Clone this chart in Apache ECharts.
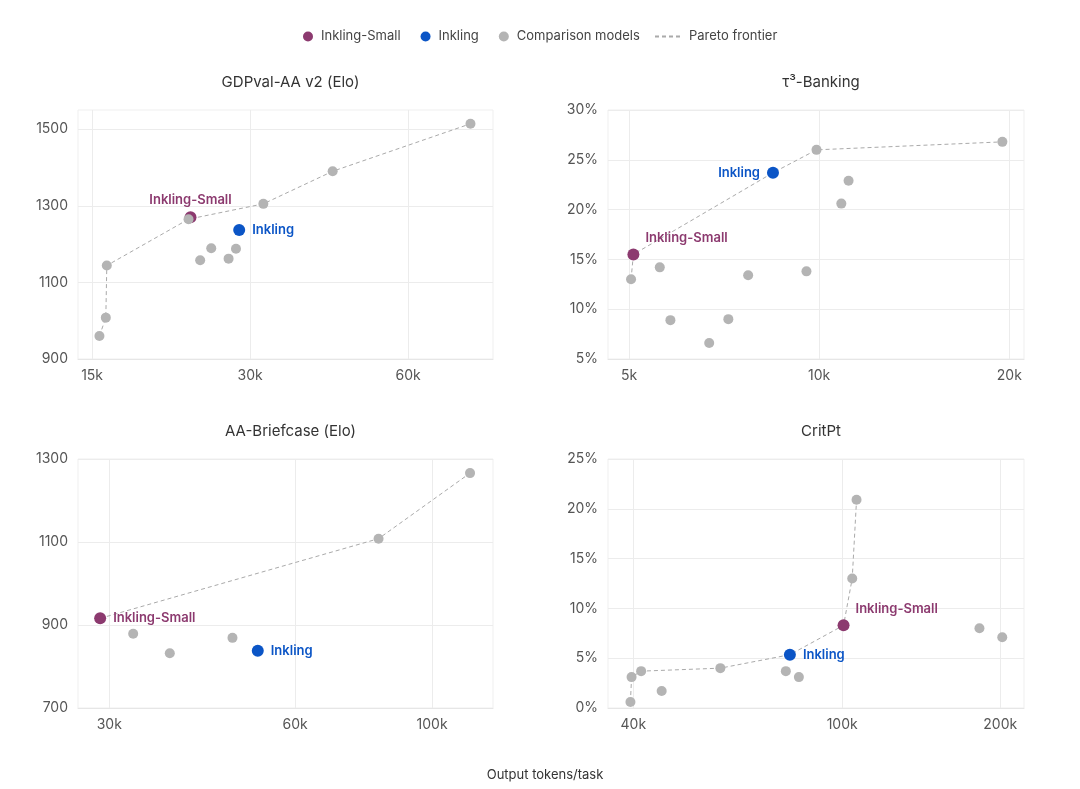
<!DOCTYPE html>
<html>
<head>
<meta charset="utf-8">
<script src="https://cdn.jsdelivr.net/npm/echarts@6/dist/echarts.min.js"></script>
<style>
html,body{margin:0;padding:0;background:#fff;}
#c{width:1080px;height:789px;}
</style>
</head>
<body>
<div id="c"></div>
<script>
// ---------- DATA ----------
const panelTitles = ['GDPval-AA v2 (Elo)', 'τ³-Banking', 'AA-Briefcase (Elo)', 'CritPt'];

const gdpComparison = [[15490,960],[15930,1008],[16000,1144],[22900,1265],[24100,1158],[25300,1189],[27300,1162],[28200,1188],[31800,1305],[43100,1390],[78900,1514]];
const gdpSmall = [[23100,1270]];
const gdpInkling = [[28600,1237]];
const gdpFrontier = [[15490,960],[15930,1008],[16000,1144],[22900,1265],[23100,1270],[31800,1305],[43100,1390],[78900,1514]];

const bankComparison = [[5036,13.0],[5592,14.2],[5813,8.9],[6696,6.6],[7180,9.0],[7718,13.4],[9546,13.8],[9902,26.0],[10840,20.6],[11130,22.9],[19500,26.8]];
const bankSmall = [[5079,15.5]];
const bankInkling = [[8449,23.7]];
const bankFrontier = [[5036,13.0],[5079,15.5],[8449,23.7],[9902,26.0],[19500,26.8]];

const briefComparison = [[32800,879],[37600,832],[47500,869],[81900,1108],[115200,1266]];
const briefSmall = [[29000,916]];
const briefInkling = [[52200,838]];
const briefFrontier = [[29000,916],[81900,1108],[115200,1266]];

const critComparison = [[39500,0.6],[39700,3.1],[41400,3.7],[45300,1.7],[58600,4.0],[78100,3.7],[82700,3.1],[104500,13.0],[106500,20.9],[182600,8.0],[201800,7.1]];
const critSmall = [[100600,8.3]];
const critInkling = [[79500,5.35]];
const critFrontier = [[39500,0.6],[39700,3.1],[41400,3.7],[58600,4.0],[79500,5.35],[100600,8.3],[104500,13.0],[106500,20.9]];

const xTicks = [[15000,30000,60000],[5000,10000,20000],[30000,60000,100000],[40000,100000,200000]];
const xRanges = [[14100,87100],[4630,21100],[26700,125500],[35800,222000]];
const yTicks = [[900,1100,1300,1500],[5,10,15,20,25,30],[700,900,1100,1300],[0,5,10,15,20,25]];
const yRanges = [[900,1550],[5,30],[700,1300],[0,25]];
const yPercent = [false,true,false,true];

// ---------- STYLE ----------
const C_SMALL = '#8c3a6f';
const C_INK = '#0b55c6';
const C_GRAY = '#b4b4b4';
const FONT = 'Inter, "Noto Sans", sans-serif';

const grids = [
  {left:78, top:110, width:415, height:249},
  {left:608, top:110, width:416, height:249},
  {left:78, top:459, width:415, height:249},
  {left:608, top:459, width:416, height:249}
];

const labelCfg = [
  [{position:'top', distance:5, offset:[0,0]}, {position:'right', distance:7, offset:[0,0]}],
  [{position:'right', distance:6, offset:[0,-16]}, {position:'left', distance:7, offset:[0,0]}],
  [{position:'right', distance:7, offset:[0,0]}, {position:'right', distance:7, offset:[0,0]}],
  [{position:'right', distance:6, offset:[0,-16]}, {position:'right', distance:7, offset:[0,0]}]
];

const comparisons = [gdpComparison, bankComparison, briefComparison, critComparison];
const smalls = [gdpSmall, bankSmall, briefSmall, critSmall];
const inklings = [gdpInkling, bankInkling, briefInkling, critInkling];
const frontiers = [gdpFrontier, bankFrontier, briefFrontier, critFrontier];

const xAxes = [], yAxes = [], series = [], titles = [];
for (let i = 0; i < 4; i++) {
  const g = grids[i];
  titles.push({
    text: panelTitles[i],
    left: g.left + g.width / 2,
    top: g.top - 40,
    textAlign: 'center',
    textStyle: {fontFamily: FONT, fontSize: 15, fontWeight: 'normal', color: '#333'}
  });
  xAxes.push({
    type: 'log', gridIndex: i, min: xRanges[i][0], max: xRanges[i][1],
    axisLine: {show: true, lineStyle: {color: '#e6e6e6'}},
    axisTick: {show: false, customValues: xTicks[i]},
    splitLine: {show: true, lineStyle: {color: '#ececec'}},
    axisLabel: {customValues: xTicks[i], margin: 10, color: '#555', fontSize: 14, fontFamily: FONT,
      formatter: v => Math.round(v / 1000) + 'k'}
  });
  yAxes.push({
    type: 'value', gridIndex: i, min: yRanges[i][0], max: yRanges[i][1],
    interval: yTicks[i][1] - yTicks[i][0],
    axisLine: {show: false},
    axisTick: {show: false, customValues: yTicks[i]},
    splitLine: {show: true, lineStyle: {color: '#ececec'}},
    axisLabel: {customValues: yTicks[i], margin: 10, color: '#555', fontSize: 14, fontFamily: FONT,
      formatter: v => yPercent[i] ? v + '%' : String(v)}
  });
  series.push({
    name: 'Pareto frontier', type: 'line', xAxisIndex: i, yAxisIndex: i,
    data: frontiers[i], symbol: 'none', silent: true, z: 1,
    lineStyle: {color: '#aaaaaa', width: 1, type: [4, 3]},
    itemStyle: {color: '#aaaaaa'}
  });
  series.push({
    name: 'Inkling-Small', type: 'scatter', xAxisIndex: i, yAxisIndex: i,
    data: smalls[i], symbolSize: 12, z: 3,
    itemStyle: {color: C_SMALL, opacity: 1},
    label: Object.assign({show: true, formatter: 'Inkling-Small', color: C_SMALL, fontSize: 13,
      fontWeight: 600, fontFamily: FONT}, labelCfg[i][0])
  });
  series.push({
    name: 'Inkling', type: 'scatter', xAxisIndex: i, yAxisIndex: i,
    data: inklings[i], symbolSize: 12, z: 3,
    itemStyle: {color: C_INK, opacity: 1},
    label: Object.assign({show: true, formatter: 'Inkling', color: C_INK, fontSize: 13,
      fontWeight: 600, fontFamily: FONT}, labelCfg[i][1])
  });
  series.push({
    name: 'Comparison models', type: 'scatter', xAxisIndex: i, yAxisIndex: i,
    data: comparisons[i], symbolSize: 10, z: 4,
    itemStyle: {color: C_GRAY, opacity: 1}
  });
}

titles.push({
  text: 'Output tokens/task', left: 540, top: 764, textAlign: 'center',
  textStyle: {fontFamily: FONT, fontSize: 13, fontWeight: 'normal', color: '#333'}
});

const legendText = {fontFamily: FONT, fontSize: 13, color: '#444', padding: [0, 0, 0, 3]};

const chart = echarts.init(document.getElementById('c'), null, {renderer: 'canvas'});
chart.setOption({
  backgroundColor: '#fff',
  animation: false,
  title: titles,
  legend: [
    {
      top: 30, left: 303, padding: 0, itemGap: 20, itemWidth: 10, itemHeight: 10,
      textStyle: legendText,
      data: [
        {name: 'Inkling-Small', icon: 'circle'},
        {name: 'Inkling', icon: 'circle'},
        {name: 'Comparison models', icon: 'circle'}
      ]
    },
    {
      top: 30, left: 654, padding: 0, itemWidth: 26, itemHeight: 10,
      textStyle: legendText,
      data: [{name: 'Pareto frontier', itemStyle: {opacity: 0}}]
    }
  ],
  grid: grids.map(g => Object.assign({show: true, borderColor: '#efefef', borderWidth: 1}, g)),
  xAxis: xAxes,
  yAxis: yAxes,
  series: series
});
</script>
</body>
</html>
